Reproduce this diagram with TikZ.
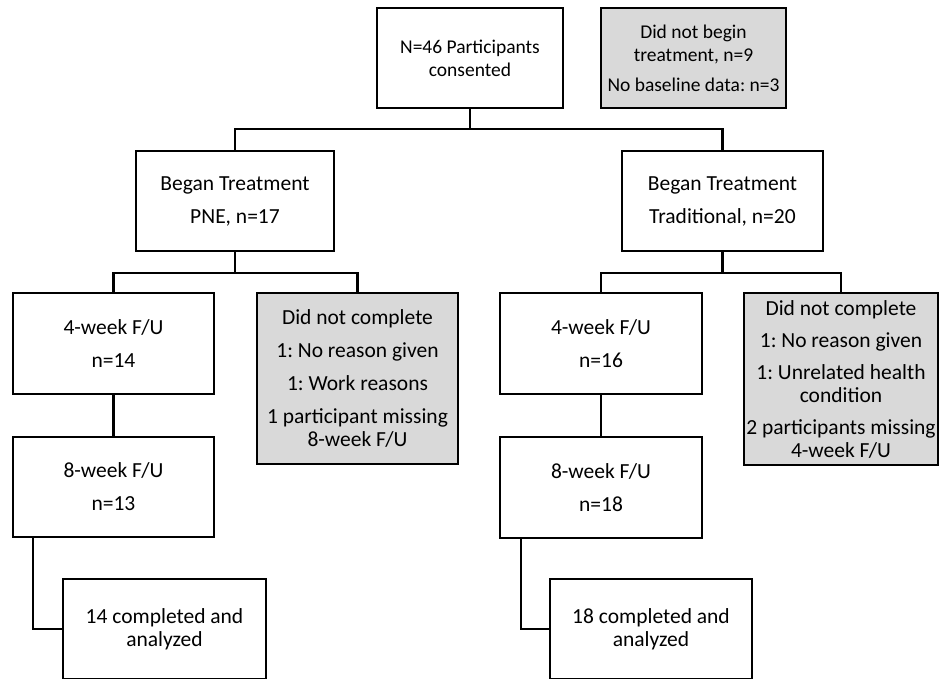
\documentclass[tikz,border=0pt]{standalone}
\usepackage{fontspec}
\setmainfont{Carlito}
\frenchspacing
\begin{document}
\begin{tikzpicture}[x=1pt,y=-1pt,
  box/.style={draw=black,line width=2.2pt,fill=white,align=center,inner sep=0pt,
    font=\fontsize{21.5}{23}\selectfont},
  greybox/.style={box,fill=boxgrey},
  small/.style={font=\fontsize{19.5}{23}\selectfont},
  conn/.style={line width=2.2pt,line cap=rect}]
\definecolor{boxgrey}{HTML}{D9D9D9}
\useasboundingbox (0,0) rectangle (939,679);
% nodes
\node[box,small,minimum width=186pt,minimum height=100pt] (top) at (470,58) {N=46 Participants\\consented};
\node[greybox,small,minimum width=185pt,minimum height=100pt] (excl) at (693.5,58) {Did not begin\\treatment, n=9\\[7pt]No baseline data: n=3};
\node[box,minimum width=198pt,minimum height=100pt] (pne) at (235,201) {Began Treatment\\[10pt]PNE, n=17};
\node[box,minimum width=201pt,minimum height=100pt] (trad) at (722.5,201) {Began Treatment\\[10pt]Traditional, n=20};
\node[box,minimum width=201pt,minimum height=101pt] (wfourL) at (113.5,343.5) {4-week F/U\\[10pt]n=14};
\node[greybox,minimum width=201pt,minimum height=171pt] (dropL) at (357.5,378.5) {Did not complete\\[10pt]1: No reason given\\[10pt]1: Work reasons\\[10pt]1 participant missing\\8-week F/U};
\node[box,minimum width=201pt,minimum height=100pt] (weightL) at (113.5,487) {8-week F/U\\[10pt]n=13};
\node[box,minimum width=203pt,minimum height=100pt] (finL) at (164.5,629) {14 completed and\\analyzed};
\node[box,minimum width=202pt,minimum height=101pt] (wfourR) at (601,343.5) {4-week F/U\\[10pt]n=16};
\node[greybox,minimum width=194pt,minimum height=172pt] (dropR) at (841,379) {Did not complete\\[9pt]1: No reason given\\[9pt]1: Unrelated health\\condition\\[9pt]2 participants missing\\4-week F/U};
\node[box,minimum width=202pt,minimum height=101pt] (weightR) at (601,487.5) {8-week F/U\\[10pt]n=18};
\node[box,minimum width=202pt,minimum height=100pt] (finR) at (651,629) {18 completed and\\analyzed};
% connectors
\coordinate (j0) at (470,129);
\draw[conn] (top.south) -- (j0);
\draw[conn] (pne.north) |- (j0) -| (trad.north);
\coordinate (jL) at (235,273);
\draw[conn] (pne.south) -- (jL);
\draw[conn] (wfourL.north) |- (jL) -| (dropL.north);
\coordinate (jR) at (722.5,273);
\draw[conn] (trad.south) -- (jR);
\draw[conn] (wfourR.north) |- (jR) -| (dropR.north);
\draw[conn] (wfourL.south) -- (weightL.north);
\draw[conn] (wfourR.south) -- (weightR.north);
\draw[conn] ([xshift=-80.5pt]weightL.south) |- (finL.west);
\draw[conn] ([xshift=-80pt]weightR.south) |- (finR.west);
\end{tikzpicture}
\end{document}
